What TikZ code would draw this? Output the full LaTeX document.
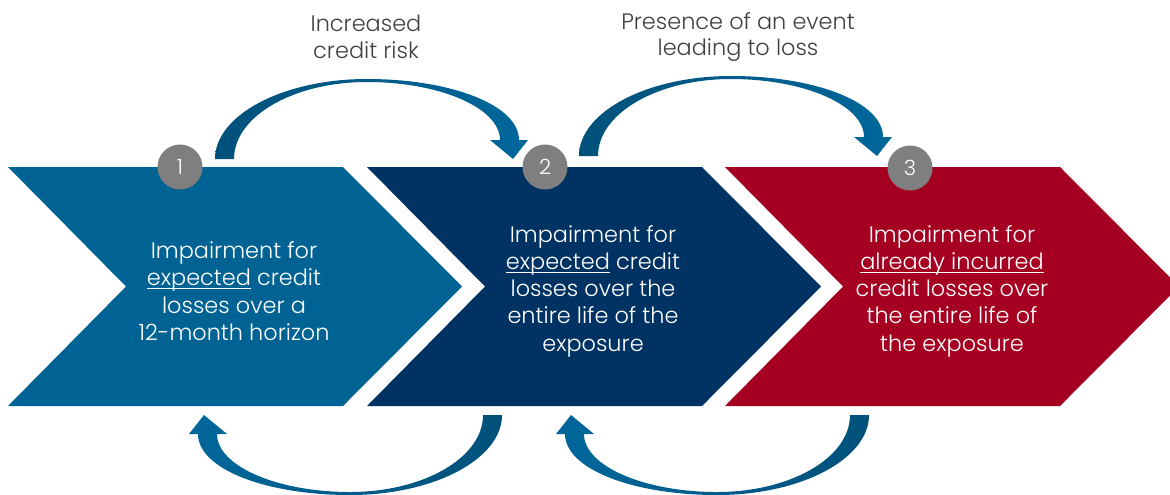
\documentclass[tikz,border=0pt]{standalone}
\usepackage{fontspec}
\IfFontExistsTF{Poppins Light}{\setmainfont{Poppins Light}}{\setmainfont{Poppins}}
\definecolor{chevA}{HTML}{006394}
\definecolor{chevB}{HTML}{003363}
\definecolor{chevC}{HTML}{A50021}
\definecolor{numgray}{HTML}{7F7F7F}
\definecolor{arrD}{HTML}{00517A}
\definecolor{arrL}{HTML}{00679B}
\definecolor{labgray}{HTML}{404040}
\newsavebox\ulbox
\newcommand\myul[1]{\sbox\ulbox{#1}\rlap{\rule[-1.7pt]{\wd\ulbox}{0.55pt}}\usebox\ulbox}
\tikzset{
  boxtext/.style={align=center, text=white, inner sep=0pt, font=\fontsize{11.2pt}{13.6pt}\selectfont},
  toplabel/.style={align=center, text=labgray, inner sep=0pt, font=\fontsize{11.2pt}{13.4pt}\selectfont},
  numdot/.style={circle, fill=numgray, text=white, minimum size=22.5pt, inner sep=0pt, font=\fontsize{10.5pt}{12pt}\selectfont},
  toparr/.style={left color=arrD, right color=arrL},
  botarr/.style={left color=arrL, right color=arrD}
}
\begin{document}
\begin{tikzpicture}[x=0.5pt,y=-0.5pt]
\useasboundingbox (0,0) rectangle (1170,494);
\clip (0,0) rectangle (1170,494);
% chevrons
\fill[chevA] (8,167) -- (343,167) -- (462,286.5) -- (343,406) -- (8,406) -- (126,286.5) -- cycle;
\fill[chevB] (367,167) -- (702,167) -- (821,286.5) -- (702,406) -- (367,406) -- (485,286.5) -- cycle;
\fill[chevC] (725,167) -- (1060,167) -- (1179,286.5) -- (1060,406) -- (725,406) -- (843,286.5) -- cycle;
% top arrows
\shade[toparr] (215,159) .. controls (215,115) and (283,79) .. (367,79) .. controls (451,79) and (519,105) .. (519,140) -- (528,140) -- (513,159) -- (490,140) -- (500,140) .. controls (500,108) and (440,82) .. (367,82) .. controls (294,82) and (234,116) .. (234,159) -- cycle;
\begin{scope}[shift={(364,-3)}]
\shade[toparr] (215,159) .. controls (215,115) and (283,79) .. (367,79) .. controls (451,79) and (519,105) .. (519,140) -- (528,140) -- (513,159) -- (490,140) -- (500,140) .. controls (500,108) and (440,82) .. (367,82) .. controls (294,82) and (234,116) .. (234,159) -- cycle;
\end{scope}
% bottom arrows
\shade[botarr] (502,415) .. controls (502,459) and (434,495) .. (350,495) .. controls (266,495) and (198,469) .. (198,434) -- (189,434) -- (204,415) -- (227,434) -- (217,434) .. controls (217,466) and (277,492) .. (350,492) .. controls (423,492) and (483,458) .. (483,415) -- cycle;
\begin{scope}[shift={(367,0)}]
\shade[botarr] (502,415) .. controls (502,459) and (434,495) .. (350,495) .. controls (266,495) and (198,469) .. (198,434) -- (189,434) -- (204,415) -- (227,434) -- (217,434) .. controls (217,466) and (277,492) .. (350,492) .. controls (423,492) and (483,458) .. (483,415) -- cycle;
\end{scope}
% numbers
\node[numdot] (n1) at (180,167) {1};
\node[numdot] (n2) at (545,167) {2};
\node[numdot] (n3) at (910,168) {3};
% labels
\node[toplabel] (l1) at (366,37) {Increased\\credit risk};
\node[toplabel] (l2) at (738,37) {Presence of an event\\leading to loss};
% box texts
\node[boxtext] (t1) at (234,291) {Impairment for\\\myul{expected} credit\\losses over a\\12-month horizon};
\node[boxtext] (t2) at (593,291) {Impairment for\\\myul{expected} credit\\losses over the\\entire life of the\\exposure};
\node[boxtext] (t3) at (952,291) {Impairment for\\\myul{already incurred}\\credit losses over\\the entire life of\\the exposure};
\end{tikzpicture}
\end{document}
